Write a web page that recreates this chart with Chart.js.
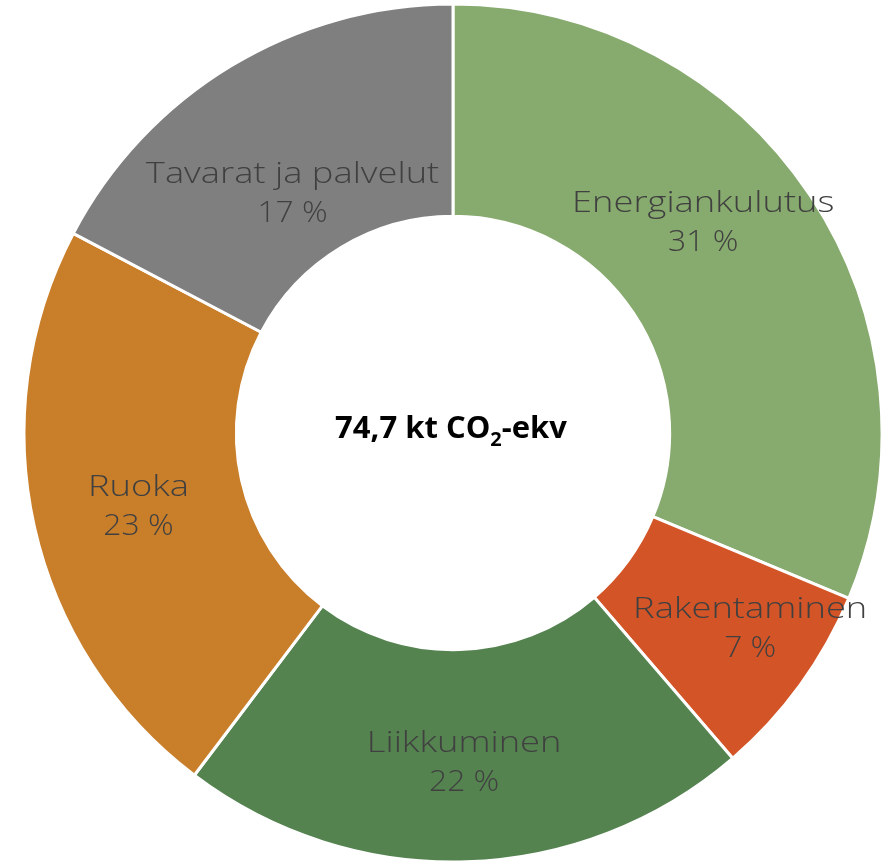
<!DOCTYPE html>
<html><head><meta charset="utf-8">
<script src="https://cdn.jsdelivr.net/npm/chart.js@4/dist/chart.umd.min.js"></script>
<style>html,body{margin:0;padding:0;background:#fff;}#wrap{width:890px;height:865px;}</style>
</head><body><div id="wrap"><canvas id="c" width="890" height="865"></canvas></div>
<script>
const categories = ["Energiankulutus", "Rakentaminen", "Liikkuminen", "Ruoka", "Tavarat ja palvelut"];
const values = [31.3, 7.4, 21.6, 22.4, 17.3];
const percentLabels = ["31 %", "7 %", "22 %", "23 %", "17 %"];
const colors = ["#87AA6E", "#D35426", "#548350", "#C97E2A", "#7F7F7F"];
const centerMain = "74,7 kt CO";
const centerSub = "2";
const centerTail = "-ekv";

// label nudges relative to each arc's centre point (style only)
const labelNudge = [[-18.5, -33.5], [36, 4], [1, 5], [0.5, 1.5], [6.5, 35]];

const labelPlugin = {
  id: 'labels',
  afterDatasetsDraw(chart) {
    const ctx = chart.ctx;
    const meta = chart.getDatasetMeta(0);
    ctx.save();
    ctx.fillStyle = "#404040";
    ctx.textAlign = "center";
    ctx.textBaseline = "alphabetic";
    ctx.font = "300 30px 'Open Sans'";
    meta.data.forEach((arc, i) => {
      const p = arc.getCenterPoint();
      const x = p.x + labelNudge[i][0];
      const y = p.y + labelNudge[i][1];
      ctx.save();
      ctx.translate(x, y);
      ctx.scale(1.21, 1);
      ctx.fillText(categories[i], 0, -19.5 + 10.8);
      ctx.restore();
      ctx.save();
      ctx.translate(x, y);
      ctx.scale(1.06, 1);
      ctx.fillText(percentLabels[i], 0, 19.5 + 10.8);
      ctx.restore();
    });
    // center text
    const cx = (chart.chartArea.left + chart.chartArea.right) / 2 - 2;
    const cy = (chart.chartArea.top + chart.chartArea.bottom) / 2;
    ctx.fillStyle = "#000";
    ctx.textAlign = "left";
    const big = "bold 31px 'Open Sans'";
    const small = "bold 20px 'Open Sans'";
    ctx.font = big;
    const w1 = ctx.measureText(centerMain).width;
    const w3 = ctx.measureText(centerTail).width;
    ctx.font = small;
    const w2 = ctx.measureText(centerSub).width;
    let x = cx - (w1 + w2 + w3) / 2;
    const base = cy + 5;
    ctx.font = big; ctx.fillText(centerMain, x, base); x += w1;
    ctx.font = small; ctx.fillText(centerSub, x, base + 8); x += w2;
    ctx.font = big; ctx.fillText(centerTail, x, base);
    ctx.restore();
  }
};

new Chart(document.getElementById('c'), {
  type: 'doughnut',
  data: {
    labels: categories,
    datasets: [{
      data: values,
      backgroundColor: colors,
      borderColor: "#ffffff",
      borderWidth: 3,
      hoverOffset: 0
    }]
  },
  options: {
    responsive: false,
    animation: false,
    cutout: '50.5%',
    layout: { padding: { left: 22.5, right: 6.5, top: 2.5, bottom: 1.5 } },
    plugins: { legend: { display: false }, tooltip: { enabled: false } }
  },
  plugins: [labelPlugin]
});
</script>
</body></html>
